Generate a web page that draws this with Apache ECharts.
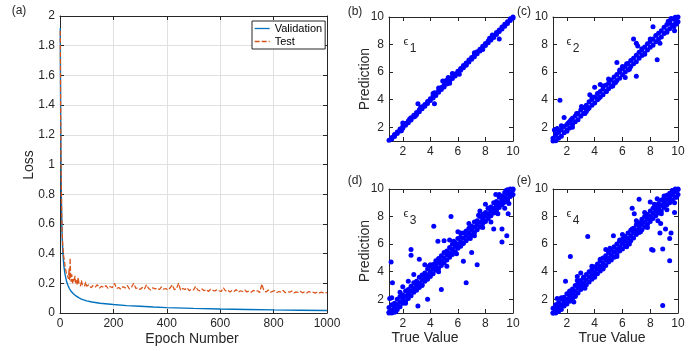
<!DOCTYPE html>
<html><head><meta charset="utf-8">
<script src="https://cdn.jsdelivr.net/npm/echarts@6/dist/echarts.min.js"></script>
<style>html,body{margin:0;padding:0;background:#fff}#c{width:698px;height:351px}</style>
</head><body><div id="c"></div>
<script>
// ---------- Panel (a): loss curves ----------
const xTicksA = [0, 200, 400, 600, 800, 1000];
const yTicksA = [0, 0.2, 0.4, 0.6, 0.8, 1, 1.2, 1.4, 1.6, 1.8, 2];
const valEpoch = [1,2,3,4,5,6,7,8,10,12,15,18,20,25,30,35,40,50,60,70,80,100,120,150,200,250,300,350,400,500,600,700,800,900,1000];
const valLoss = [1.92,1.5,1.18,0.95,0.8,0.68,0.6,0.52,0.43,0.37,0.31,0.27,0.25,0.21,0.185,0.165,0.15,0.13,0.115,0.103,0.094,0.082,0.074,0.066,0.057,0.05,0.045,0.04,0.036,0.031,0.027,0.024,0.021,0.019,0.017];
const testEpochEarly = [1,2,3,4,5,6,7,8,10,12,14,16,18,20,22,24,26,28,30,32,34,36,38,40,42,44,46,48,50,53,56,59,62,65,68,71,74,77,80,84,88,92,96];
const testLossEarly = [1.9,1.55,1.22,1.0,0.85,0.72,0.62,0.55,0.47,0.42,0.38,0.36,0.33,0.3,0.31,0.27,0.28,0.25,0.26,0.23,0.3,0.22,0.37,0.24,0.21,0.26,0.22,0.2,0.23,0.21,0.25,0.2,0.22,0.19,0.24,0.2,0.21,0.18,0.22,0.19,0.2,0.18,0.21];
const testEpochLate = [100,108,116,124,132,140,148,156,164,172,180,188,196,204,212,220,228,236,244,252,260,268,276,284,292,300,308,316,324,332,340,348,356,364,372,380,388,396,404,412,420,428,436,444,452,460,468,476,484,492,500,508,516,524,532,540,548,556,564,572,580,588,596,604,612,620,628,636,644,652,660,668,676,684,692,700,708,716,724,732,740,748,756,764,772,780,788,796,804,812,820,828,836,844,852,860,868,876,884,892,900,908,916,924,932,940,948,956,964,972,980,988,996,1000];
const testLossLate = [0.18,0.19,0.17,0.185,0.175,0.19,0.168,0.18,0.172,0.185,0.165,0.178,0.17,
0.2,0.165,0.172,0.16,0.178,0.168,0.185,0.162,0.174,0.2,0.165,0.17,0.158,
0.172,0.16,0.19,0.165,0.155,0.17,0.162,0.168,0.158,0.175,0.16,0.165,
0.155,0.168,0.19,0.158,0.162,0.2,0.152,0.165,0.158,0.17,0.15,0.16,0.155,
0.18,0.155,0.148,0.162,0.15,0.158,0.145,0.16,0.152,0.148,0.158,0.15,
0.145,0.17,0.148,0.155,0.142,0.152,0.145,0.158,0.14,0.15,0.145,0.155,0.142,
0.148,0.14,0.152,0.145,0.15,0.138,0.195,0.148,0.142,0.155,0.14,0.146,
0.15,0.138,0.145,0.14,0.152,0.136,0.144,0.14,0.148,0.135,0.142,0.138,0.146,
0.136,0.142,0.135,0.145,0.138,0.14,0.134,0.142,0.136,0.14,0.133,0.138,
0.135];

// ---------- Panels (b)-(e): true vs predicted ----------
const scatTicks = [2, 4, 6, 8, 10];
const trueGrid = [1.0,1.2,1.4,1.6,1.8,2.0,2.2,2.4,2.6,2.8,3.0,3.2,3.4,3.6,3.8,4.0,4.2,4.4,4.6,4.8,5.0,5.2,5.4,5.6,5.8,6.0,6.2,6.4,6.6,6.8,7.0,7.2,7.4,7.6,7.8,8.0,8.2,8.4,8.6,8.8,9.0,9.2,9.4,9.6,9.8,10.0];

const e1PredA = [1.06,1.25,1.47,1.65,1.87,2.06,2.27,2.45,2.68,2.86,3.07,3.26,3.48,3.65,3.87,4.06,4.28,4.46,4.65,4.88,5.07,5.28,5.46,5.67,5.86,6.07,6.26,6.48,6.66,6.87,7.06,7.27,7.47,7.66,7.87,8.08,8.26,8.47,8.66,8.87,9.06,9.27,9.47,9.65,9.87,10.0];
const e1PredB = [0.96,1.14,1.33,1.54,1.72,1.93,2.14,2.32,2.53,2.74,2.93,3.12,3.34,3.53,3.72,3.94,4.13,4.31,4.54,4.73,4.92,5.13,5.34,5.53,5.72,5.93,6.14,6.32,6.53,6.74,6.93,7.12,7.33,7.54,7.72,7.93,8.14,8.33,8.52,8.73,8.94,9.13,9.32,9.53,9.74,9.93];
const e1Out = [[4.3,3.7],[3.1,3.7],[2.0,2.3],[4.3,4.5],[5.15,5.4],[5.6,5.9],[4.9,5.35],[9.0,8.4],[6.1,5.85],[4.2,4.45],[5.4,5.2],[7.2,7.4],[8.5,8.7],[1.9,1.75],[6.6,6.5],[4.6,4.85],[5.3,5.6],[2.9,2.8],[2.5,2.6],[3.3,3.45],[7.8,7.65],[8.3,8.45]];

const e2PredA = [1.2,1.4,1.62,1.82,2.05,2.2,2.42,2.65,2.82,3.0,3.25,3.42,3.6,3.85,4.02,4.2,4.45,4.6,4.8,5.05,5.2,5.42,5.65,5.82,6.0,6.25,6.4,6.62,6.85,7.0,7.22,7.45,7.6,7.82,8.05,8.22,8.4,8.65,8.82,9.0,9.25,9.45,9.65,9.85,9.98,10.0];
const e2PredB = [1.0,1.02,1.2,1.35,1.6,1.8,1.95,2.2,2.4,2.55,2.8,3.0,3.15,3.4,3.6,3.75,4.0,4.2,4.35,4.6,4.8,4.95,5.2,5.4,5.55,5.8,6.0,6.15,6.4,6.6,6.75,7.0,7.2,7.35,7.6,7.8,7.95,8.2,8.4,8.55,8.8,9.0,9.15,9.4,9.5,9.65];
const e2Out = [[1.5,3.95],[6.8,8.4],[7.0,8.1],[8.5,6.9],[7.0,5.7],[5.6,6.7],[4.4,5.1],[4.0,4.9],[3.65,4.35],[3.05,3.5],[8.2,9.3],[9.6,9.4],[9.75,9.0],[8.7,8.1],[2.1,2.3],[1.6,2.1],[1.8,2.7],[4.85,4.6],[6.2,5.6],[7.1,7.9],[9.2,8.9],[1.3,1.9],[2.4,2.0],[3.3,3.0],[5.0,5.5],[5.3,5.0],[6.0,6.4],[6.5,6.2],[7.6,7.3],[8.0,8.4],[9.9,9.5],[9.5,9.9],[9.85,9.7],[9.3,9.7],[1.2,1.5],[2.7,3.0],[4.3,4.1],[4.6,5.0],[5.8,6.15],[3.8,4.2],[1.1,1.8],[2.0,1.7],[9.7,9.3],[9.4,9.55],[9.9,9.85],[5.5,5.25],[6.3,6.6],[3.5,3.3],[2.3,2.55],[7.4,7.7]];

const e3PredA = [1.4,1.6,1.7,2.0,2.2,2.3,2.6,2.7,2.95,3.2,3.3,3.6,3.75,3.9,4.2,4.4,4.5,4.8,4.95,5.15,5.4,5.5,5.75,6.0,6.1,6.4,6.5,6.8,6.95,7.15,7.3,7.6,7.7,8.0,8.15,8.3,8.6,8.7,9.0,9.1,9.4,9.5,9.75,9.95,10.0,10.0];
const e3PredB = [1.05,1.2,1.4,1.62,1.8,2.0,2.22,2.38,2.6,2.82,3.0,3.18,3.42,3.6,3.78,4.02,4.2,4.38,4.62,4.8,5.0,5.22,5.38,5.6,5.82,6.0,6.18,6.42,6.6,6.78,7.0,7.22,7.4,7.58,7.8,8.02,8.2,8.38,8.6,8.8,9.0,9.2,9.38,9.62,9.8,9.95];
const e3PredC = [1.0,1.0,1.05,1.25,1.45,1.7,1.85,2.05,2.25,2.5,2.65,2.85,3.05,3.3,3.45,3.65,3.85,4.1,4.25,4.45,4.65,4.85,5.05,5.25,5.45,5.7,5.85,6.05,6.25,6.45,6.65,6.85,7.05,7.25,7.5,7.65,7.85,8.05,8.25,8.45,8.65,8.85,9.05,9.25,9.45,9.6];
const e3Out = [[1.15,4.7],[1.25,3.2],[2.6,5.6],[2.6,5.2],[3.2,4.9],[3.1,1.5],[3.8,2.0],[4.25,7.3],[5.5,8.0],[4.8,2.7],[6.6,3.2],[6.4,4.75],[7.4,4.5],[7.0,5.4],[9.2,6.15],[9.55,6.6],[9.2,7.1],[8.6,7.1],[8.75,9.6],[9.7,8.95],[9.65,8.2],[4.55,6.2],[5.0,6.25],[1.2,2.1],[1.05,2.05],[2.0,2.9],[2.4,3.3],[2.8,3.8],[3.6,4.5],[4.0,4.5],[5.2,4.4],[5.9,5.3],[6.2,6.8],[6.8,7.5],[7.8,7.2],[8.2,8.6],[8.4,7.6],[8.9,8.2],[9.3,9.0],[9.5,9.9],[9.8,9.5],[7.6,8.4],[5.4,6.3],[3.4,3.0],[2.2,1.7],[1.5,1.1],[1.8,2.5],[6.0,6.9],[9.0,9.6],[7.2,6.6],[4.6,4.0],[8.0,8.9],[9.4,8.6],[3.9,4.4],[4.3,4.55],[5.7,6.2],[6.9,6.4],[7.5,8.1],[8.7,8.3],[9.6,9.2]];

const e4PredA = [1.35,1.55,1.75,2.0,2.15,2.4,2.55,2.75,3.0,3.15,3.35,3.55,3.8,4.0,4.15,4.35,4.55,4.8,5.0,5.15,5.4,5.55,5.8,6.0,6.2,6.35,6.55,6.8,7.0,7.15,7.4,7.55,7.8,8.0,8.15,8.4,8.6,8.8,8.95,9.2,9.35,9.55,9.7,9.9,10.0,10.0];
const e4PredB = [1.0,1.2,1.42,1.6,1.82,2.0,2.2,2.42,2.6,2.8,3.02,3.2,3.4,3.62,3.8,4.0,4.22,4.4,4.6,4.82,5.0,5.2,5.42,5.6,5.8,6.02,6.2,6.4,6.6,6.82,7.0,7.2,7.42,7.6,7.8,8.0,8.22,8.4,8.6,8.8,9.02,9.2,9.4,9.6,9.8,9.97];
const e4PredC = [1.0,1.0,1.1,1.25,1.5,1.65,1.85,2.05,2.25,2.45,2.7,2.85,3.05,3.25,3.45,3.7,3.85,4.05,4.25,4.45,4.7,4.85,5.05,5.25,5.5,5.65,5.85,6.05,6.25,6.45,6.7,6.85,7.05,7.25,7.45,7.65,7.85,8.05,8.25,8.4,8.65,8.85,9.0,9.2,9.4,9.6];
const e4Out = [[2.25,5.1],[3.5,6.55],[5.35,6.6],[2.75,3.35],[2.75,3.65],[2.6,2.2],[2.5,1.8],[8.9,1.55],[9.4,4.8],[8.9,5.65],[8.2,5.55],[9.4,6.4],[8.7,6.8],[9.5,6.8],[8.75,7.5],[9.1,7.1],[8.1,5.6],[6.7,8.6],[6.85,8.2],[7.4,7.6],[8.0,9.05],[7.2,9.25],[7.9,7.95],[8.45,8.5],[8.55,7.7],[9.75,8.3],[9.75,9.0],[6.7,7.1],[1.3,2.05],[1.6,2.1],[1.9,3.3],[3.0,3.9],[3.3,2.8],[4.4,4.9],[4.8,5.6],[5.6,5.1],[6.0,6.7],[6.3,5.8],[7.6,8.3],[7.8,7.2],[8.3,8.9],[9.0,9.5],[9.2,8.5],[9.6,9.9],[9.9,9.4],[5.1,5.7],[4.0,3.6],[3.8,4.4],[2.2,2.6],[1.2,1.6],[8.5,9.3],[9.3,9.2],[7.0,7.7],[6.5,6.0],[4.6,4.2],[5.8,6.3],[7.3,6.9],[8.8,8.2],[9.5,9.6],[3.2,3.6]];

// ---------- build ----------
const FONT = '"Liberation Sans", Arial, Helvetica, sans-serif';
const INK = '#262626';
const pairs = (xs, ys) => xs.map((x, i) => [x, ys[i]]);
const valData = pairs(valEpoch, valLoss);
const testData = pairs(testEpochEarly.concat(testEpochLate), testLossEarly.concat(testLossLate));
const panelData = [
  pairs(trueGrid, e1PredA).concat(pairs(trueGrid, e1PredB), e1Out),
  pairs(trueGrid, e2PredA).concat(pairs(trueGrid, e2PredB), e2Out),
  pairs(trueGrid, e3PredA).concat(pairs(trueGrid, e3PredB), pairs(trueGrid, e3PredC), e3Out),
  pairs(trueGrid, e4PredA).concat(pairs(trueGrid, e4PredB), pairs(trueGrid, e4PredC), e4Out)
];

const grids = [
  {left: 60, top: 16, width: 267, height: 297},
  {left: 389, top: 17, width: 124, height: 124},
  {left: 553, top: 17, width: 125, height: 124},
  {left: 389, top: 189, width: 124, height: 124},
  {left: 553, top: 189, width: 125, height: 124}
];

const xAxes = [], yAxes = [];
function mkAxis(gi, pos, main, range, ticks, grid) {
  const ax = {
    type: 'value', gridIndex: gi, position: pos, min: range[0], max: range[1],
    axisLine: {show: true, onZero: false, lineStyle: {color: INK, width: 1}},
    axisTick: {show: true, inside: true, length: 4, lineStyle: {color: INK}},
    axisLabel: {show: main, color: INK, fontSize: 12, fontFamily: FONT, margin: 5,
      formatter: v => String(+v.toFixed(2))},
    splitLine: {show: main && grid, lineStyle: {color: '#e0e0e0', width: 1}}
  };
  if (gi === 0) {
    ax.interval = ticks[1] - ticks[0];
  } else {
    ax.axisLabel.customValues = ticks;
    ax.axisTick.customValues = ticks;
  }
  return ax;
}
grids.forEach((g, gi) => {
  const xr = gi === 0 ? [0, 1000] : [1, 10];
  const yr = gi === 0 ? [0, 2] : [1, 10];
  const xt = gi === 0 ? xTicksA : scatTicks;
  const yt = gi === 0 ? yTicksA : scatTicks;
  xAxes.push(mkAxis(gi, 'bottom', true, xr, xt, gi === 0));
  xAxes.push(mkAxis(gi, 'top', false, xr, xt, false));
  yAxes.push(mkAxis(gi, 'left', true, yr, yt, gi === 0));
  yAxes.push(mkAxis(gi, 'right', false, yr, yt, false));
});

const series = [
  {name: 'Validation', type: 'line', xAxisIndex: 0, yAxisIndex: 0, data: valData, symbol: 'none', showSymbol: false,
   lineStyle: {color: '#0072BD', width: 1.4}, itemStyle: {color: '#0072BD'}, z: 3},
  {name: 'Test', type: 'line', xAxisIndex: 0, yAxisIndex: 0, data: testData, symbol: 'none', showSymbol: false,
   lineStyle: {color: '#D95319', width: 1.25, type: [5, 2]}, itemStyle: {color: '#D95319'}, z: 4}
];
panelData.forEach((d, i) => {
  series.push({type: 'scatter', xAxisIndex: 2 * (i + 1), yAxisIndex: 2 * (i + 1), data: d,
    symbol: 'circle', symbolSize: 5, itemStyle: {color: '#0000FF', opacity: 1}, clip: true, silent: true});
});

function txt(x, y, text, size, opt) {
  return Object.assign({type: 'text', x: x, y: y, silent: true, z: 100,
    style: {text: text, fill: INK, font: size + 'px ' + FONT, textAlign: 'center', textVerticalAlign: 'middle'}}, opt || {});
}
const graphics = [
  txt(19, 11, '(a)', 12), txt(355, 12, '(b)', 12), txt(524, 12, '(c)', 12),
  txt(355, 181, '(d)', 12), txt(524, 181, '(e)', 12),
  txt(29, 165, 'Loss', 14, {rotation: Math.PI / 2}),
  txt(192, 339, 'Epoch Number', 14),
  txt(365, 79, 'Prediction', 14, {rotation: Math.PI / 2}),
  txt(365, 251, 'Prediction', 14, {rotation: Math.PI / 2}),
  txt(425, 338, 'True Value', 14), txt(612, 338, 'True Value', 14)
];
[[406, 42, '1'], [569, 42, '2'], [406, 214, '3'], [569, 214, '4']].forEach(e => {
  graphics.push(txt(e[0], e[1], '\u03F5', 11));
  graphics.push(txt(e[0] + 7, e[1] + 7, e[2], 12));
});

const chart = echarts.init(document.getElementById('c'), null, {renderer: 'canvas'});
chart.setOption({
  animation: false,
  backgroundColor: '#fff',
  grid: grids,
  xAxis: xAxes,
  yAxis: yAxes,
  legend: {
    data: ['Validation', 'Test'], orient: 'vertical', left: 252, top: 21,
    itemWidth: 15, itemHeight: 12, itemGap: 2, padding: [2, 3, 2, 2],
    borderColor: INK, borderWidth: 1, backgroundColor: '#fff',
    itemStyle: {opacity: 0},
    lineStyle: {width: 1.3},
    textStyle: {color: '#000', fontSize: 11, fontFamily: FONT}
  },
  series: series,
  graphic: graphics
});
</script></body></html>
